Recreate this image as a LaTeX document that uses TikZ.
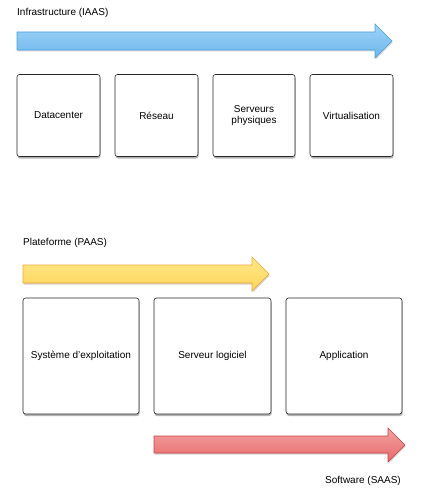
\documentclass[tikz,border=0pt]{standalone}
\usepackage{fontspec}
\setmainfont{Liberation Sans}
\usetikzlibrary{shadows}
\definecolor{bluetop}{HTML}{9ED3F7}
\definecolor{bluebot}{HTML}{6CB6EC}
\definecolor{blueedge}{HTML}{4A9FDF}
\definecolor{yeltop}{HTML}{FFE98A}
\definecolor{yelbot}{HTML}{FDD45A}
\definecolor{yeledge}{HTML}{F0A632}
\definecolor{redtop}{HTML}{F5A0A0}
\definecolor{redbot}{HTML}{E56B6B}
\definecolor{rededge}{HTML}{C64444}
\begin{document}
\begin{tikzpicture}[x=1pt,y=-1pt,
  box/.style={draw=black!85,line width=0.6pt,rounded corners=2.5pt,fill=white,
    align=center,font=\fontsize{10}{11.5}\selectfont,inner sep=0pt,
    drop shadow={shadow xshift=0.6pt,shadow yshift=-2pt,opacity=0.3,fill=black}},
  lbl/.style={font=\fontsize{10}{11.5}\selectfont,inner sep=0pt},
  ashadow/.style={drop shadow={shadow xshift=0.5pt,shadow yshift=-1.5pt,opacity=0.18,fill=black}},
  bluearrow/.style={ashadow,line width=0.6pt,top color=bluetop,bottom color=bluebot,draw=blueedge},
  yelarrow/.style={ashadow,line width=0.6pt,top color=yeltop,bottom color=yelbot,draw=yeledge},
  redarrow/.style={ashadow,line width=0.6pt,top color=redtop,bottom color=redbot,draw=rededge}
]
\useasboundingbox (0,0) rectangle (421,495);

\node[lbl,anchor=west] (iaas) at (17,13) {Infrastructure (IAAS)};
\path[bluearrow] (17,32) -- (375,32) -- (375,24) -- (392,41) -- (375,58) -- (375,50) -- (17,50) -- cycle;

\node[box,minimum width=83pt,minimum height=82pt] (dc) at (58.5,115.5) {Datacenter};
\node[box,minimum width=83pt,minimum height=82pt] (res) at (156.5,115.5) {Réseau};
\node[box,minimum width=82pt,minimum height=82pt] (srv) at (254,115.5) {Serveurs\\physiques};
\node[box,minimum width=83pt,minimum height=82pt] (virt) at (351.5,115.5) {Virtualisation};

\node[lbl,anchor=west] (paas) at (23,243) {Plateforme (PAAS)};
\path[yelarrow] (23,265) -- (252,265) -- (252,257) -- (269,274) -- (252,291) -- (252,283) -- (23,283) -- cycle;

\node[box,minimum width=116pt,minimum height=116pt] (os) at (81,356) {Système d\symbol{39}exploitation};
\node[box,minimum width=117pt,minimum height=116pt] (sl) at (212.5,356) {Serveur logiciel};
\node[box,minimum width=116pt,minimum height=116pt] (app) at (344,356) {Application};

\path[redarrow] (154,436) -- (388,436) -- (388,428) -- (405,445) -- (388,462) -- (388,453) -- (154,453) -- cycle;
\node[lbl,anchor=east] (saas) at (401,481) {Software (SAAS)};
\end{tikzpicture}
\end{document}
